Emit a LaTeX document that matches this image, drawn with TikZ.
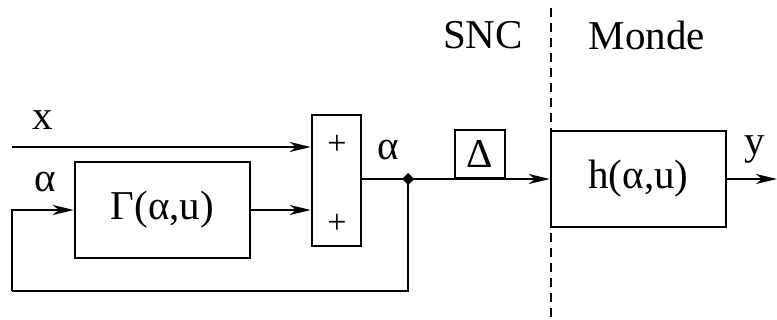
\documentclass[tikz,border=0pt]{standalone}
\usepackage{fontspec}
\setmainfont{Liberation Serif}
\usetikzlibrary{arrows.meta}
\begin{document}
\begin{tikzpicture}[x=1pt,y=-1pt,line width=2.4pt,
  blk/.style={draw,minimum width=#1,inner sep=0pt,font=\fontsize{41}{44}\selectfont},
  lbl/.style={font=\fontsize{41}{44}\selectfont,inner sep=0pt},
  arr/.style={-{Stealth[length=21pt,width=10pt,inset=6pt]}},
  plus/.style={font=\fontsize{34}{36}\selectfont,inner sep=0pt}]
\useasboundingbox (0,0) rectangle (777,320);
% blocks
\node[blk=175pt,minimum height=96pt] (G) at (162.5,210) {Γ(α,u)};
\node[draw,minimum width=49pt,minimum height=131pt,inner sep=0pt] (S) at (336.5,180.5) {};
\node[plus] (p1) at (337,145) {+};
\node[plus] (p2) at (337,224) {+};
\node[blk=175pt,minimum height=96pt] (H) at (638.5,179) {h(α,u)};
\node[blk=50pt,minimum height=48pt,anchor=south] (D) at (480,179) {Δ};
% coordinates
\coordinate (xin) at (12,147);
\coordinate (fbl) at (12,210);
\coordinate (fbb) at (12,291);
\coordinate (J) at (408,179);
\coordinate (fbr) at (408,291);
\coordinate (yout) at (777,179);
\coordinate (d1) at (551,8);
\coordinate (d2) at (551,318);
% connectors
\draw[arr] (xin) -- (xin -| S.west);
\draw[arr] (G.east) -- (G.east -| S.west);
\draw (J -| S.east) -- (J);
\draw[arr] (J) -- (H.west);
\draw[arr] (fbb) -- (fbl) -- (G.west);
\draw (fbb) -- (fbr) -- (J);
\draw[arr] (H.east) -- (yout);
\fill (J) +(-6,0) -- +(0,-6) -- +(6,0) -- +(0,6) -- cycle;
\draw[line width=1.8pt,dash pattern=on 9pt off 6pt] (d1) -- (d2);
% labels
\node[lbl] (lx) at (43,120) {x};
\node[lbl] (la1) at (45,182) {α};
\node[lbl] (la2) at (388,150) {α};
\node[lbl] (ly) at (755,150) {y};
\node[lbl] (snc) at (483,35) {SNC};
\node[lbl] (monde) at (647,35) {Monde};
\end{tikzpicture}
\end{document}
